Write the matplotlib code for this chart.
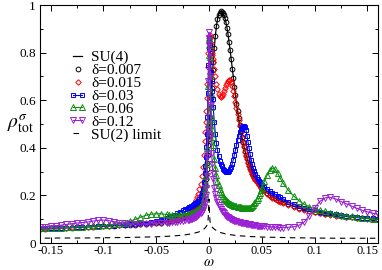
import matplotlib
matplotlib.use("Agg")
import matplotlib.pyplot as plt
from matplotlib.ticker import MultipleLocator
from matplotlib.legend_handler import HandlerLine2D

# frequency grid shared by the delta curves (dense near zero, like the data)
omega = [-0.165, -0.16, -0.155, -0.15, -0.145, -0.14, -0.135, -0.13, -0.125, -0.12,
         -0.115, -0.11, -0.105, -0.1, -0.095, -0.09, -0.085, -0.08, -0.075, -0.07,
         -0.065, -0.06, -0.055, -0.05, -0.045,
         -0.04, -0.0375, -0.035, -0.0325, -0.03, -0.0275, -0.025, -0.0225,
         -0.02, -0.019, -0.018, -0.017, -0.016, -0.015, -0.014, -0.013, -0.012, -0.011, -0.01,
         -0.009, -0.008, -0.007, -0.006, -0.005,
         -0.004, -0.0035, -0.003, -0.0025, -0.002, -0.0015, -0.001, -0.0005, -0.0002,
         0.0,
         0.0002, 0.0005, 0.001, 0.0015, 0.002, 0.0025, 0.003, 0.0035, 0.004,
         0.005, 0.006, 0.007, 0.008, 0.009,
         0.01, 0.011, 0.012, 0.013, 0.014, 0.015, 0.016, 0.017, 0.018, 0.019,
         0.02, 0.021, 0.022, 0.023, 0.024, 0.025, 0.026, 0.027, 0.028, 0.029,
         0.03, 0.031, 0.032, 0.033, 0.034, 0.035, 0.036, 0.037, 0.038, 0.039,
         0.04, 0.041, 0.042, 0.043, 0.044, 0.045, 0.046, 0.047, 0.048, 0.049, 0.05,
         0.0525, 0.055, 0.0575, 0.06, 0.0625, 0.065, 0.0675, 0.07,
         0.075, 0.08, 0.085, 0.09, 0.095, 0.1, 0.105, 0.11, 0.115, 0.12,
         0.125, 0.13, 0.135, 0.14, 0.145, 0.15, 0.155, 0.16, 0.165]

rho_su4 = [0.058, 0.059, 0.06, 0.061, 0.062, 0.063, 0.064, 0.065, 0.066, 0.067,
           0.068, 0.069, 0.07, 0.071, 0.072, 0.073, 0.074, 0.075, 0.076, 0.077,
           0.079, 0.08, 0.082, 0.084, 0.086,
           0.089, 0.091, 0.093, 0.095, 0.098, 0.101, 0.105, 0.109,
           0.114, 0.116, 0.118, 0.121, 0.124, 0.128, 0.132, 0.136, 0.141, 0.146, 0.152,
           0.16, 0.17, 0.182, 0.197, 0.216,
           0.24, 0.254, 0.27, 0.288, 0.31, 0.335, 0.37, 0.41, 0.435,
           0.45,
           0.466, 0.49, 0.53, 0.57, 0.61, 0.65, 0.69, 0.725, 0.76,
           0.82, 0.87, 0.91, 0.94, 0.958,
           0.968, 0.973, 0.972, 0.966, 0.957, 0.945, 0.928, 0.905, 0.877, 0.845,
           0.81, 0.772, 0.733, 0.694, 0.656, 0.62, 0.586, 0.554, 0.524, 0.496,
           0.47, 0.447, 0.426, 0.406, 0.388, 0.371, 0.356, 0.342, 0.329, 0.317,
           0.306, 0.296, 0.287, 0.278, 0.27, 0.262, 0.255, 0.249, 0.243, 0.237, 0.232,
           0.221, 0.211, 0.203, 0.195, 0.188, 0.182, 0.176, 0.171,
           0.162, 0.154, 0.147, 0.141, 0.136, 0.131, 0.127, 0.123, 0.12, 0.117,
           0.114, 0.111, 0.109, 0.107, 0.105, 0.103, 0.101, 0.099, 0.097]

# delta=0.007 sits right on the SU(4) curve
rho_d007 = list(rho_su4)

rho_d015 = [0.059, 0.06, 0.061, 0.062, 0.063, 0.064, 0.065, 0.066, 0.067, 0.068,
            0.069, 0.07, 0.071, 0.072, 0.073, 0.074, 0.075, 0.077, 0.078, 0.08,
            0.082, 0.084, 0.086, 0.089, 0.092,
            0.096, 0.098, 0.1, 0.102, 0.105, 0.108, 0.112, 0.116,
            0.122, 0.125, 0.129, 0.134, 0.14, 0.148, 0.157, 0.167, 0.179, 0.192, 0.205,
            0.225, 0.25, 0.28, 0.32, 0.37,
            0.43, 0.465, 0.51, 0.555, 0.61, 0.67, 0.74, 0.8, 0.84,
            0.86,
            0.87, 0.875, 0.86, 0.84, 0.82, 0.8, 0.79, 0.775, 0.76,
            0.73, 0.7, 0.67, 0.645, 0.628,
            0.618, 0.615, 0.618, 0.626, 0.637, 0.65, 0.663, 0.674, 0.682, 0.686,
            0.684, 0.675, 0.66, 0.64, 0.617, 0.592, 0.566, 0.54, 0.515, 0.49,
            0.466, 0.443, 0.422, 0.402, 0.384, 0.367, 0.352, 0.338, 0.325, 0.313,
            0.302, 0.292, 0.283, 0.274, 0.266, 0.258, 0.251, 0.245, 0.239, 0.233, 0.228,
            0.217, 0.207, 0.199, 0.191, 0.184, 0.178, 0.172, 0.167,
            0.158, 0.15, 0.144, 0.138, 0.133, 0.129, 0.125, 0.121, 0.118, 0.115,
            0.112, 0.11, 0.108, 0.106, 0.104, 0.102, 0.1, 0.098, 0.096]

rho_d03 = [0.058, 0.059, 0.06, 0.061, 0.062, 0.063, 0.064, 0.065, 0.066, 0.067,
           0.068, 0.069, 0.07, 0.071, 0.072, 0.073, 0.074, 0.076, 0.078, 0.08,
           0.082, 0.085, 0.088, 0.092, 0.097,
           0.104, 0.109, 0.114, 0.119, 0.125, 0.131, 0.137, 0.143,
           0.148, 0.15, 0.152, 0.154, 0.157, 0.16, 0.163, 0.166, 0.17, 0.174, 0.178,
           0.186, 0.196, 0.21, 0.228, 0.255,
           0.295, 0.325, 0.36, 0.405, 0.46, 0.53, 0.63, 0.75, 0.82,
           0.86,
           0.85, 0.83, 0.8, 0.76, 0.72, 0.68, 0.64, 0.605, 0.57,
           0.51, 0.46, 0.42, 0.39, 0.365,
           0.345, 0.333, 0.322, 0.313, 0.306, 0.301, 0.298, 0.297, 0.298, 0.302,
           0.309, 0.319, 0.333, 0.35, 0.37, 0.391, 0.412, 0.432, 0.45, 0.465,
           0.477, 0.486, 0.491, 0.492, 0.488, 0.475, 0.45, 0.425, 0.398, 0.372,
           0.35, 0.331, 0.315, 0.301, 0.289, 0.279, 0.27, 0.262, 0.255, 0.249, 0.244,
           0.236, 0.228, 0.22, 0.212, 0.205, 0.198, 0.192, 0.186,
           0.173, 0.164, 0.156, 0.149, 0.143, 0.137, 0.132, 0.128, 0.124, 0.12,
           0.117, 0.114, 0.111, 0.109, 0.107, 0.105, 0.103, 0.101, 0.099]

rho_d06 = [0.06, 0.061, 0.062, 0.063, 0.064, 0.065, 0.066, 0.067, 0.068, 0.069,
           0.07, 0.071, 0.072, 0.074, 0.076, 0.078, 0.081, 0.085, 0.091, 0.099,
           0.108, 0.116, 0.121, 0.123, 0.122,
           0.12, 0.119, 0.118, 0.117, 0.117, 0.117, 0.118, 0.119,
           0.12, 0.121, 0.122, 0.123, 0.124, 0.126, 0.128, 0.13, 0.133, 0.137, 0.142,
           0.147, 0.153, 0.161, 0.172, 0.188,
           0.212, 0.228, 0.25, 0.28, 0.33, 0.4, 0.5, 0.66, 0.79,
           0.86,
           0.83, 0.78, 0.7, 0.63, 0.57, 0.52, 0.48, 0.445, 0.41,
           0.355, 0.315, 0.285, 0.262, 0.243,
           0.228, 0.216, 0.206, 0.198, 0.191, 0.185, 0.18, 0.175, 0.171, 0.168,
           0.165, 0.162, 0.16, 0.158, 0.157, 0.156, 0.155, 0.153, 0.152, 0.151,
           0.15, 0.149, 0.148, 0.147, 0.146, 0.146, 0.146, 0.146, 0.147, 0.149,
           0.152, 0.156, 0.161, 0.167, 0.174, 0.182, 0.191, 0.201, 0.211, 0.222, 0.233,
           0.26, 0.285, 0.305, 0.315, 0.31, 0.293, 0.272, 0.252,
           0.222, 0.198, 0.178, 0.163, 0.152, 0.144, 0.138, 0.133, 0.128, 0.123,
           0.119, 0.115, 0.112, 0.109, 0.106, 0.104, 0.102, 0.1, 0.098]

rho_d12 = [0.065, 0.067, 0.069, 0.071, 0.073, 0.075, 0.078, 0.081, 0.084, 0.086,
           0.088, 0.092, 0.095, 0.096, 0.094, 0.09, 0.086, 0.083, 0.081, 0.08,
           0.08, 0.08, 0.081, 0.082, 0.083,
           0.085, 0.086, 0.087, 0.088, 0.09, 0.092, 0.094, 0.095,
           0.097, 0.098, 0.099, 0.1, 0.102, 0.104, 0.106, 0.108, 0.11, 0.113, 0.116,
           0.12, 0.125, 0.131, 0.139, 0.15,
           0.166, 0.18, 0.2, 0.23, 0.28, 0.36, 0.48, 0.68, 0.83,
           0.885,
           0.86, 0.8, 0.7, 0.58, 0.45, 0.38, 0.33, 0.295, 0.27,
           0.23, 0.205, 0.187, 0.172, 0.16,
           0.15, 0.142, 0.135, 0.129, 0.124, 0.119, 0.115, 0.111, 0.108, 0.105,
           0.102, 0.1, 0.098, 0.096, 0.094, 0.092, 0.091, 0.089, 0.088, 0.087,
           0.086, 0.085, 0.084, 0.083, 0.082, 0.081, 0.08, 0.079, 0.078, 0.078,
           0.077, 0.076, 0.075, 0.075, 0.074, 0.073, 0.073, 0.072, 0.072, 0.071, 0.071,
           0.07, 0.069, 0.068, 0.067, 0.066, 0.066, 0.065, 0.065,
           0.066, 0.068, 0.074, 0.088, 0.115, 0.148, 0.175, 0.19, 0.192, 0.185,
           0.174, 0.165, 0.155, 0.146, 0.138, 0.131, 0.125, 0.12, 0.116]

# SU(2) limit, dashed line with its own grid
omega_su2 = [-0.165, -0.14, -0.12, -0.1, -0.08, -0.06, -0.05, -0.04, -0.03, -0.025,
             -0.02, -0.015, -0.01, -0.008, -0.006, -0.004, -0.003, -0.002, -0.001, -0.0005,
             0.0,
             0.0005, 0.001, 0.002, 0.003, 0.004, 0.006, 0.008, 0.01, 0.015, 0.02,
             0.025, 0.03, 0.04, 0.05, 0.06, 0.08, 0.1, 0.12, 0.14, 0.165]
rho_su2 = [0.02, 0.021, 0.021, 0.022, 0.023, 0.025, 0.026, 0.028, 0.031, 0.033,
           0.036, 0.04, 0.046, 0.05, 0.055, 0.062, 0.067, 0.074, 0.09, 0.12,
           0.185,
           0.12, 0.09, 0.074, 0.067, 0.062, 0.055, 0.05, 0.045, 0.039, 0.035,
           0.032, 0.03, 0.027, 0.025, 0.024, 0.022, 0.021, 0.02, 0.02, 0.02]

xticks = [-0.15, -0.1, -0.05, 0, 0.05, 0.1, 0.15]
xticklabels = ["-0.15", "-0.1", "-0.05", "0", "0.05", "0.1", "0.15"]
yticks = [0, 0.2, 0.4, 0.6, 0.8, 1]
yticklabels = ["0", "0.2", "0.4", "0.6", "0.8", "1"]

plt.rcParams["font.family"] = "Liberation Serif"
plt.rcParams["mathtext.fontset"] = "stix"

fig = plt.figure(figsize=(3.82, 2.70), dpi=100)
ax = fig.add_axes([40 / 382, 27 / 270, 338 / 382, 238 / 270])

green = "#0f8f0f"
purple = "#9a1fd6"

h_su4, = ax.plot(omega, rho_su4, color="k", lw=0.9, label="SU(4)")
h007, = ax.plot(omega, rho_d007, ls="none", marker="o", ms=3.4, mfc="none",
                mec="k", mew=0.7, label="δ=0.007")
h015, = ax.plot(omega, rho_d015, ls="none", marker="D", ms=2.8, mfc="none",
                mec="red", mew=0.7, label="δ=0.015")
h03, = ax.plot(omega, rho_d03, color="blue", lw=0.8, marker="s", ms=3.4,
               mfc="none", mew=0.7, label="δ=0.03")
h06, = ax.plot(omega, rho_d06, color=green, lw=0.8, marker="^", ms=4.0,
               mfc="none", mew=0.7, label="δ=0.06")
h12, = ax.plot(omega, rho_d12, color=purple, lw=0.8, marker="v", ms=4.0,
               mfc="none", mew=0.7, label="δ=0.12")
h_su2, = ax.plot(omega_su2, rho_su2, color="k", lw=0.8, ls=(0, (5, 4)),
                 label="SU(2) limit")

ax.set_xlim(-0.16, 0.16)
ax.set_ylim(0, 1)
ax.set_xticks(xticks)
ax.set_xticklabels(xticklabels)
ax.set_yticks(yticks)
ax.set_yticklabels(yticklabels)
ax.xaxis.set_minor_locator(MultipleLocator(0.025))
ax.yaxis.set_minor_locator(MultipleLocator(0.1))
ax.tick_params(which="both", direction="in", top=True, right=True,
               labelsize=9.5, width=0.7)
ax.tick_params(which="major", length=4.5, pad=3)
ax.tick_params(axis="x", which="major", pad=1.5, labelsize=9)
ax.tick_params(which="minor", length=2.5)
for s in ax.spines.values():
    s.set_linewidth(0.8)

ax.set_xlabel(r"$\omega$", fontsize=10.5, labelpad=-0.5)
ax.set_ylabel(r"$\rho^{\sigma}_{\rm tot}$", fontsize=14, rotation=0,
              va="center", ha="center")
ax.yaxis.set_label_coords(-0.058, 0.5)

ax.legend(handles=[h_su4, h007, h015, h03, h06, h12, h_su2],
          loc="upper left", bbox_to_anchor=(0.085, 0.81), frameon=False,
          fontsize=11, handlelength=1.2, handletextpad=0.25,
          labelspacing=-0.05, borderpad=0, borderaxespad=0, numpoints=2,
          handler_map={h007: HandlerLine2D(numpoints=1),
                       h015: HandlerLine2D(numpoints=1)})

fig.savefig("out.png", dpi=100)
